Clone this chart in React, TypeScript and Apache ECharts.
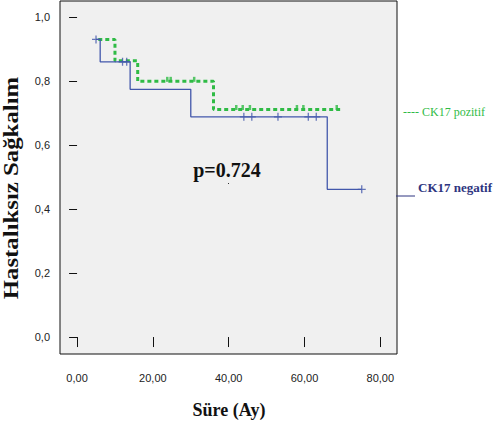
import React, { useEffect, useRef } from "react";
import * as echarts from "echarts";

// Kaplan-Meier step data (time in months, survival)
const negTimes = [5.0, 6.1, 14.0, 30.0, 66.0, 75.1];
const negSurv = [0.93, 0.86, 0.774, 0.688, 0.4615, 0.4615];
const negCensorTimes = [5.0, 12.0, 13.1, 44.0, 46.1, 53.0, 61.0, 63.1, 75.1];
const negCensorSurv = [0.93, 0.86, 0.86, 0.688, 0.688, 0.688, 0.688, 0.688, 0.4615];

const posTimes = [5.6, 10.0, 16.0, 36.0, 69.4];
const posSurv = [0.93, 0.863, 0.799, 0.711, 0.711];
const posCensorTimes = [23.8, 24.7, 30.9, 42.0, 43.7, 45.6, 58.0, 59.7, 68.5];
const posCensorSurv = [0.799, 0.799, 0.799, 0.711, 0.711, 0.711, 0.711, 0.711, 0.711];

const xTicks = [0, 20, 40, 60, 80];
const yTicks = [0, 0.2, 0.4, 0.6, 0.8, 1.0];

const BLUE = "#4257ab";
const GREEN = "#2fbb45";
const SANS = "Liberation Sans, Arial, sans-serif";
const SERIF = "Liberation Serif, Times New Roman, serif";

export default function App() {
  const ref = useRef<HTMLDivElement>(null);
  useEffect(() => {
    if (!ref.current) return;
    const chart = echarts.init(ref.current, undefined, { renderer: "svg" });
    const zip = (a: number[], b: number[]) => a.map((t, i) => [t, b[i]]);
    chart.setOption({
      animation: false,
      backgroundColor: "#ffffff",
      grid: {
        left: 60,
        top: 1,
        width: 337,
        height: 353,
        show: true,
        backgroundColor: "#f0f0f0",
        borderColor: "#111",
        borderWidth: 1,
      },
      xAxis: {
        type: "value",
        min: -4.5,
        max: 84.4,
        axisLine: { show: false },
        splitLine: { show: false },
        axisTick: {
          show: true,
          length: 10,
          customValues: xTicks,
          lineStyle: { color: "#111", width: 1 },
        },
        axisLabel: {
          customValues: xTicks,
          margin: 18,
          fontFamily: SANS,
          fontSize: 11,
          color: "#222",
          formatter: (v: number) => v.toFixed(2).replace(".", ","),
        },
      },
      yAxis: {
        type: "value",
        min: -0.053,
        max: 1.05,
        axisLine: { show: false },
        splitLine: { show: false },
        axisTick: {
          show: true,
          length: 8,
          customValues: yTicks,
          lineStyle: { color: "#111", width: 1 },
        },
        axisLabel: {
          customValues: yTicks,
          margin: 10,
          fontFamily: SANS,
          fontSize: 11,
          color: "#222",
          formatter: (v: number) => v.toFixed(1).replace(".", ","),
        },
      },
      series: [
        {
          type: "line",
          name: "CK17 negatif",
          step: "end",
          data: zip(negTimes, negSurv),
          showSymbol: false,
          lineStyle: { color: BLUE, width: 1.3 },
          z: 3,
        },
        {
          type: "scatter",
          data: zip(negCensorTimes, negCensorSurv),
          symbol: "path://M5,0L5,10M0,5L10,5",
          symbolSize: 8,
          itemStyle: { color: "none", borderColor: BLUE, borderWidth: 1.3 },
          z: 4,
        },
        {
          type: "line",
          name: "CK17 pozitif",
          step: "end",
          data: zip(posTimes, posSurv),
          showSymbol: false,
          lineStyle: { color: GREEN, width: 3, type: [4, 3] },
          z: 2,
        },
        {
          type: "scatter",
          data: zip(posCensorTimes, posCensorSurv),
          symbol: "rect",
          symbolSize: [2.5, 5],
          symbolOffset: [0, -2],
          itemStyle: { color: GREEN },
          z: 2,
        },
      ],
      graphic: [
        {
          type: "text",
          x: 11,
          y: 188,
          rotation: Math.PI / 2,
          scaleX: 1.24,
          style: {
            text: "Hastalıksız Sağkalım",
            font: `bold 20px ${SERIF}`,
            fill: "#111",
            align: "center",
            verticalAlign: "middle",
          },
        },
        {
          type: "text",
          x: 229,
          y: 410,
          style: {
            text: "Süre (Ay)",
            font: `bold 18px ${SERIF}`,
            fill: "#111",
            align: "center",
            verticalAlign: "middle",
          },
        },
        {
          type: "text",
          x: 227,
          y: 170,
          style: {
            text: "p=0.724",
            font: `bold 20px ${SERIF}`,
            fill: "#111",
            align: "center",
            verticalAlign: "middle",
          },
        },
        {
          type: "rect",
          shape: { x: 228, y: 183, width: 1, height: 1 },
          style: { fill: "#333" },
        },
        {
          type: "text",
          x: 403,
          y: 112,
          style: {
            text: "---- CK17 pozitif",
            font: `12px ${SERIF}`,
            fill: GREEN,
            align: "left",
            verticalAlign: "middle",
          },
        },
        {
          type: "line",
          shape: { x1: 396, y1: 196, x2: 415, y2: 196 },
          style: { stroke: "#2e3580", lineWidth: 1 },
        },
        {
          type: "text",
          x: 418,
          y: 187,
          style: {
            text: "CK17 negatif",
            font: `bold 13px ${SERIF}`,
            fill: "#2e3580",
            align: "left",
            verticalAlign: "middle",
          },
        },
      ],
    });
    return () => chart.dispose();
  }, []);
  return (
    <div
      ref={ref}
      style={{ position: "fixed", left: 0, top: 0, width: 497, height: 432 }}
    />
  );
}
